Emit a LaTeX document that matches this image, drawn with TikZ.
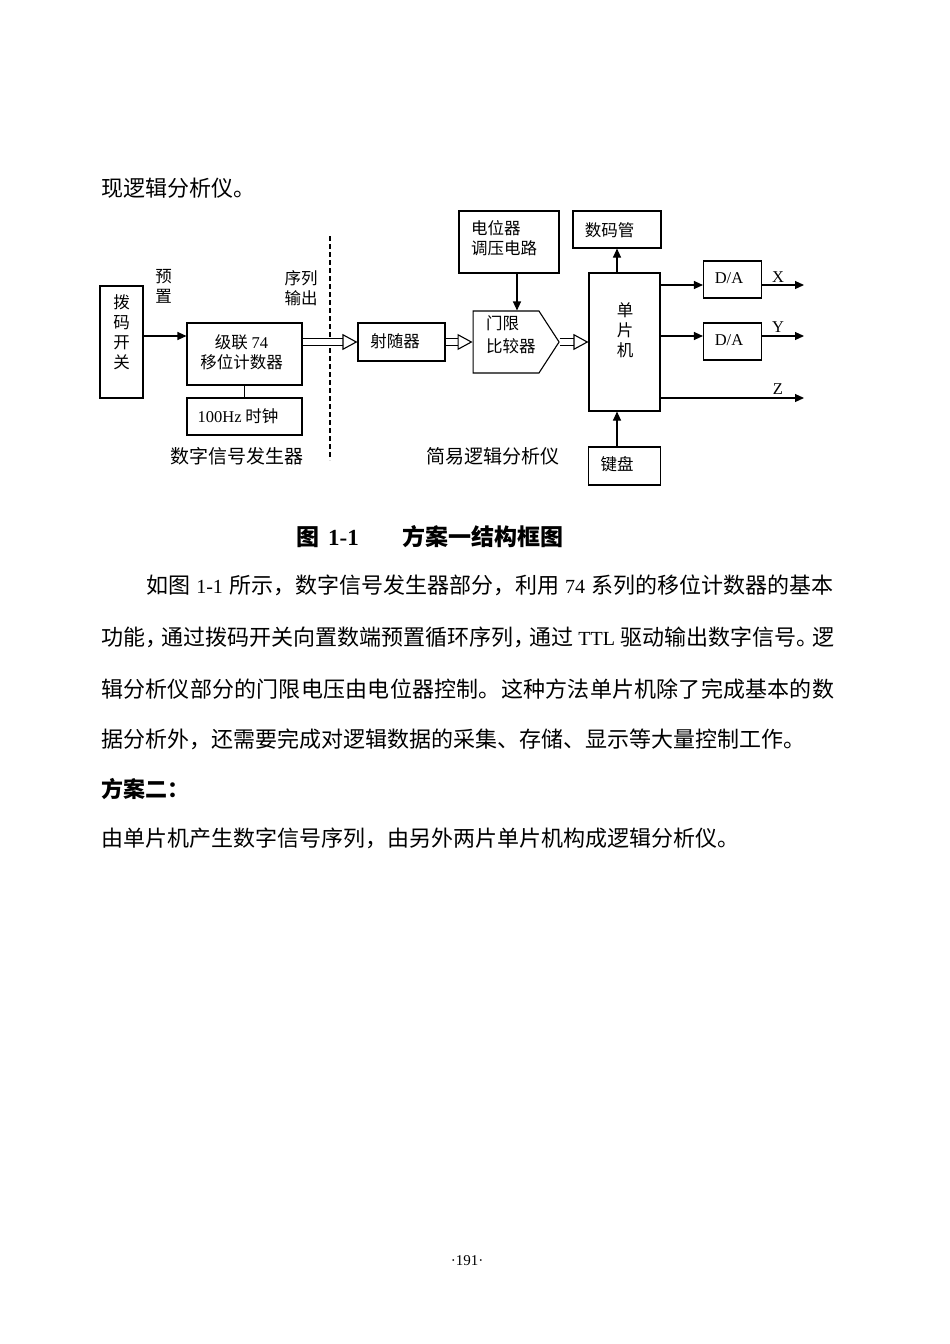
\documentclass[tikz,border=0pt]{standalone}
\usepackage{fontspec}
\setmainfont{Noto Sans CJK SC}
\newfontfamily\lat{Liberation Serif}
\usetikzlibrary{arrows.meta}
\usetikzlibrary{shapes.symbols}
\XeTeXlinebreaklocale "zh"
\XeTeXlinebreakskip=0pt plus 2pt minus 1pt
\newcommand\ascii[1]{{\lat\fontsize{20}{22}\selectfont #1}}

\tikzset{
  blk/.style={draw, line width=1.1pt, inner sep=0pt},
  txt/.style={inner sep=0pt, align=center, font=\fontsize{16.5}{20}\selectfont},
  part/.style={inner sep=0pt, font=\fontsize{19}{22}\selectfont},
  sig/.style={line width=1.1pt, -{Triangle[length=9pt, width=8pt]}},
  bus/.style={line width=1.1pt, double, double distance=6pt, -{Triangle[open, length=15pt, width=16pt, line width=1.1pt]}},
  prose/.style={inner sep=0pt, anchor=west, font=\fontsize{22}{22}\selectfont}
}

\begin{document}
\begin{tikzpicture}[x=1pt, y=-1pt]
  \fill[white] (0,0) rectangle (950,1344);
  \useasboundingbox (0,0) rectangle (950,1344);

  \node[prose] (l0) at (101,188) {现逻辑分析仪。};

  \node[blk, minimum width=43, minimum height=112] (sw) at (121.5,342) {};
  \node[txt] (sw-t) at (121.5,332.5) {拨\\码\\开\\关};
  \node[txt] (pre) at (163.5,286.5) {预\\置};
  \node[blk, minimum width=115, minimum height=62] (cnt) at (244.5,354) {};
  \node[txt] (cnt-t) at (241.5,352) {级联 {\lat 74}\\移位计数器};
  \node[blk, minimum width=115, minimum height=37] (clk) at (244.5,416.5) {};
  \node[txt] (clk-t) at (238,416.5) {{\lat 100Hz} 时钟};
  \node[part] (gen) at (237,456) {数字信号发生器};
  \node[txt] (seq) at (301,288.5) {序列\\输出};
  \draw[line width=1.1pt, dash pattern=on 5pt off 3pt] (330,236) -- (330,460);

  \node[blk, minimum width=87, minimum height=38] (ef) at (401.5,342) {};
  \node[txt] (ef-t) at (395,341) {射随器};
  \node[blk, minimum width=100, minimum height=62] (pot) at (509,242) {};
  \node[txt, align=left, anchor=west] (pot-t) at (471,238.5) {电位器\\调压电路};
  \node[blk, signal, signal to=east, signal pointer angle=114, minimum width=86, minimum height=62] (cmp) at (506,342) {};
  \node[txt, align=left, anchor=west, font=\fontsize{16.5}{23}\selectfont] (cmp-t) at (486,334.5) {门限\\比较器};
  \node[blk, minimum width=71, minimum height=138] (mcu) at (624.5,342) {};
  \node[txt] (mcu-t) at (625,330) {单\\片\\机};
  \node[blk, minimum width=88, minimum height=37] (led) at (617,229.5) {};
  \node[txt] (led-t) at (609.5,230) {数码管};
  \node[blk, minimum width=58, minimum height=37] (da1) at (732.5,279.5) {};
  \node[txt] (da1-t) at (729,278) {\lat D/A};
  \node[blk, minimum width=58, minimum height=37] (da2) at (732.5,341.5) {};
  \node[txt] (da2-t) at (729,340.5) {\lat D/A};
  \node[blk, minimum width=72, minimum height=38] (kb) at (624.5,466) {};
  \node[txt] (kb-t) at (617,464) {键盘};
  \node[part] (ana) at (493,456) {简易逻辑分析仪};

  \coordinate (xo) at (804,285);
  \coordinate (yo) at (804,336);
  \coordinate (zo) at (804,398);
  \node[txt] (xl) at (778,277) {\lat X};
  \node[txt] (yl) at (778,327) {\lat Y};
  \node[txt] (zl) at (778,389) {\lat Z};

  \draw[sig] ([yshift=6pt]sw.east) -- ([yshift=6pt]sw.east -| cnt.west);
  \draw[line width=1.1pt] (cnt) -- (clk);
  \draw[bus] ([yshift=12pt]cnt.east) -- (ef.west);
  \draw[bus] (ef.east) -- (cmp.west);
  \draw[bus] (cmp.east) -- (mcu.west);
  \draw[sig] ([xshift=8pt]pot.south) -- ([xshift=8pt]pot.south |- cmp.north);
  \draw[sig] (led.south |- mcu.north) -- (led.south);
  \draw[sig] (led.south |- kb.north) -- (led.south |- mcu.south);
  \draw[sig] (mcu.east |- xo) -- (da1.west |- xo);
  \draw[sig] (da1.east |- xo) -- (xo);
  \draw[sig] (mcu.east |- yo) -- (da2.west |- yo);
  \draw[sig] (da2.east |- yo) -- (yo);
  \draw[sig] (mcu.east |- zo) -- (zo);

  \node[prose, font=\fontsize{23}{23}\selectfont\bfseries] (cap1) at (296,537) {图\hspace{9pt}{\lat 1-1}};
  \node[prose, font=\fontsize{23}{23}\selectfont\bfseries] (cap2) at (402,537) {方案一结构框图};

  \node[prose] (l1) at (146,585) {\makebox[687pt][s]{如图 \ascii{1-1} 所示，数字信号发生器部分，利用 \ascii{74} 系列的移位计数器的基本}};
  \node[prose] (l2) at (101,637) {\makebox[733pt][s]{功能，\kern-6pt 通过拨码开关向置数端预置循环序列，\kern-6pt 通过 \ascii{TTL} 驱动输出数字信号。\kern-6pt 逻}};
  \node[prose] (l3) at (101,689) {\addfontfeatures{LetterSpace=1}辑分析仪部分的门限电压由电位器控制。这种方法单片机除了完成基本的数};
  \node[prose] (l4) at (101,739) {据分析外，还需要完成对逻辑数据的采集、存储、显示等大量控制工作。};
  \node[prose, font=\fontsize{22}{22}\selectfont\bfseries] (l5) at (101,789) {方案二：};
  \node[prose] (l6) at (101,838) {由单片机产生数字信号序列，由另外两片单片机构成逻辑分析仪。};
  \node[inner sep=0pt, font=\lat\fontsize{15}{15}\selectfont] (pg) at (467,1261) {·191·};
\end{tikzpicture}
\end{document}
